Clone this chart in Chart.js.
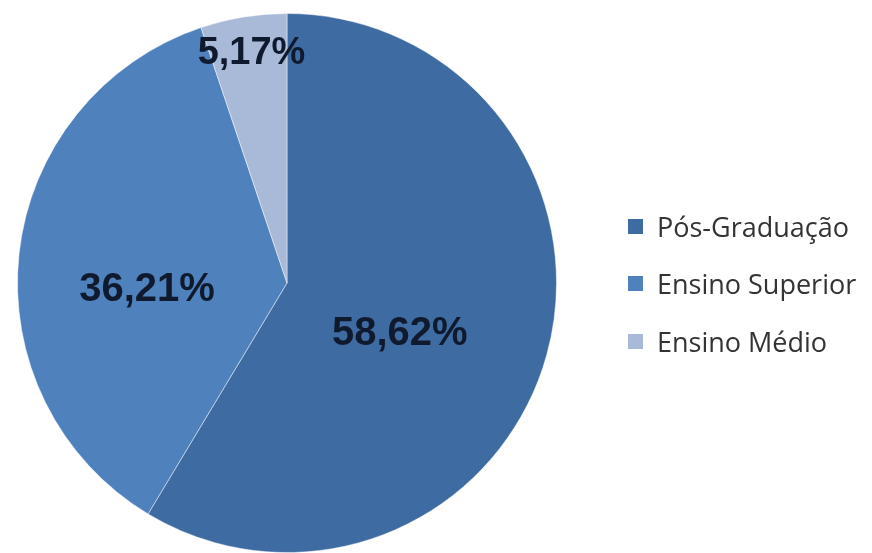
<!DOCTYPE html>
<html>
<head>
<meta charset="utf-8">
<script src="https://cdn.jsdelivr.net/npm/chart.js@4/dist/chart.umd.min.js"></script>
<style>
  html, body { margin: 0; padding: 0; background: #ffffff; }
  #wrap { position: relative; width: 872px; height: 553px; overflow: hidden; }
  #c { position: absolute; left: 0; top: 0; }
  #legend { position: absolute; left: 628px; top: 206px; font-family: "Open Sans", "Liberation Sans", sans-serif; font-size: 27px; color: #333333; white-space: nowrap; }
  #legend .item { display: flex; align-items: center; height: 40px; margin-bottom: 17.5px; }
  #legend .sw { width: 15px; height: 15px; margin-right: 14px; flex: none; }
</style>
</head>
<body>
<div id="wrap">
  <canvas id="c" width="872" height="553"></canvas>
  <div id="legend"></div>
</div>
<script>
const categories = ["Pós-Graduação", "Ensino Superior", "Ensino Médio"];
const values = [58.62, 36.21, 5.17];
const valueLabels = ["58,62%", "36,21%", "5,17%"];
const colors = ["#3f6ba3", "#4f81bd", "#a8bad7"];

// label placement (style): radius fraction and angle offset in degrees
const labelStyle = [
  { rf: 0.46, dAng: 9, size: 40 },
  { rf: 0.52, dAng: -9, size: 40 },
  { rf: 0.86, dAng: 0.5, size: 38 }
];

const labelPlugin = {
  id: 'sliceLabels',
  afterDatasetsDraw(chart) {
    const ctx = chart.ctx;
    const meta = chart.getDatasetMeta(0);
    meta.data.forEach((arc, i) => {
      const st = labelStyle[i];
      const mid = (arc.startAngle + arc.endAngle) / 2 + st.dAng * Math.PI / 180;
      const r = arc.outerRadius * st.rf;
      const x = arc.x + Math.cos(mid) * r;
      const y = arc.y + Math.sin(mid) * r;
      ctx.save();
      ctx.font = 'bold ' + st.size + 'px "Liberation Sans", Arial, sans-serif';
      ctx.fillStyle = '#101a2e';
      ctx.textAlign = 'center';
      ctx.textBaseline = 'middle';
      ctx.fillText(valueLabels[i], x, y);
      ctx.restore();
    });
  }
};

new Chart(document.getElementById('c'), {
  type: 'pie',
  data: {
    labels: categories,
    datasets: [{
      data: values,
      backgroundColor: colors,
      borderColor: 'rgba(255,255,255,0.45)',
      borderWidth: 1
    }]
  },
  options: {
    responsive: false,
    animation: false,
    rotation: 0,
    layout: { padding: { left: 17, right: 315, top: 13, bottom: 0 } },
    plugins: {
      legend: { display: false },
      tooltip: { enabled: false }
    }
  },
  plugins: [labelPlugin]
});

const leg = document.getElementById('legend');
categories.forEach((name, i) => {
  const it = document.createElement('div');
  it.className = 'item';
  const sw = document.createElement('span');
  sw.className = 'sw';
  sw.style.background = colors[i];
  const tx = document.createElement('span');
  tx.textContent = name;
  it.appendChild(sw);
  it.appendChild(tx);
  leg.appendChild(it);
});
</script>
</body>
</html>
